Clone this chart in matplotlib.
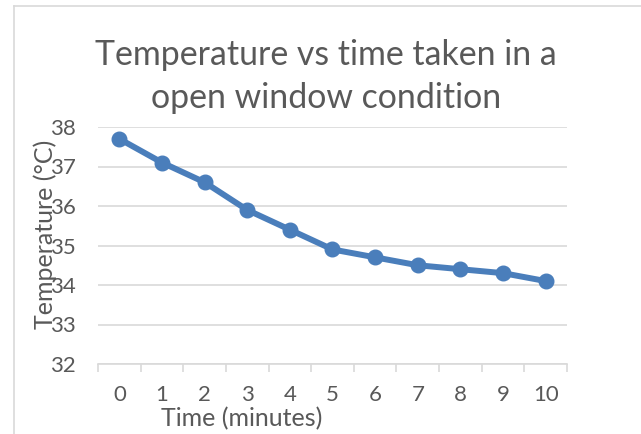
import matplotlib
matplotlib.use("Agg")
import matplotlib.pyplot as plt
from matplotlib.lines import Line2D

minutes = [0, 1, 2, 3, 4, 5, 6, 7, 8, 9, 10]
temperature = [37.7, 37.1, 36.6, 35.9, 35.4, 34.9, 34.7, 34.5, 34.4, 34.3, 34.1]
y_ticks = [32, 33, 34, 35, 36, 37, 38]
title_lines = ["Temperature vs time taken in a", "open window condition"]
xlabel = "Time (minutes)"
ylabel = "Temperature (°C)"

plt.rcParams['font.family'] = ['Lato', 'DejaVu Sans']
TXT = '#595959'
GRID = '#D9D9D9'
LINE = '#4A7EBB'

fig = plt.figure(figsize=(6.41, 4.34), dpi=100)
ax = fig.add_axes([98/641, 1-364/434, (567-98)/641, (364-127)/434])

ax.plot(minutes, temperature, color=LINE, lw=4.3, marker='o', ms=10.5,
        solid_capstyle='round', solid_joinstyle='round', zorder=3)

ax.set_xlim(-0.5, 10.5)
ax.set_ylim(32, 38)
ax.set_yticks(y_ticks)
ax.set_xticks(minutes)
ax.set_xticklabels([str(m) for m in minutes])
ax.grid(axis='y', color=GRID, lw=1.2)
ax.set_axisbelow(True)
for s in ['top', 'right', 'left']:
    ax.spines[s].set_visible(False)
ax.spines['bottom'].set_color(GRID)
ax.spines['bottom'].set_linewidth(1.2)
ax.tick_params(axis='y', length=0, pad=16, labelsize=16, labelcolor=TXT)
ax.tick_params(axis='x', which='major', length=0, pad=15, labelsize=16, labelcolor=TXT)
ax.set_xticks([m - 0.5 for m in minutes] + [10.5], minor=True)
ax.tick_params(axis='x', which='minor', length=6, width=1.2, color=GRID, direction='out')

fig.text(326/641, 1-55/434, title_lines[0], ha='center', va='center',
         fontsize=24.4, color=TXT)
fig.text(326/641, 1-98/434, title_lines[1], ha='center', va='center',
         fontsize=24.4, color=TXT)
fig.text(45/641, 1-234/434, ylabel, rotation=90, ha='center', va='center',
         fontsize=18, color=TXT)
fig.text(242/641, 1-419/434, xlabel, ha='center', va='center', fontsize=18, color=TXT)

fig.add_artist(Line2D([14/641, 14/641], [0, 1-6/434], transform=fig.transFigure,
                      color=GRID, lw=1.2))
fig.add_artist(Line2D([14/641, 1], [1-6/434, 1-6/434], transform=fig.transFigure,
                      color=GRID, lw=1.2))

fig.savefig("out.png", dpi=100)
